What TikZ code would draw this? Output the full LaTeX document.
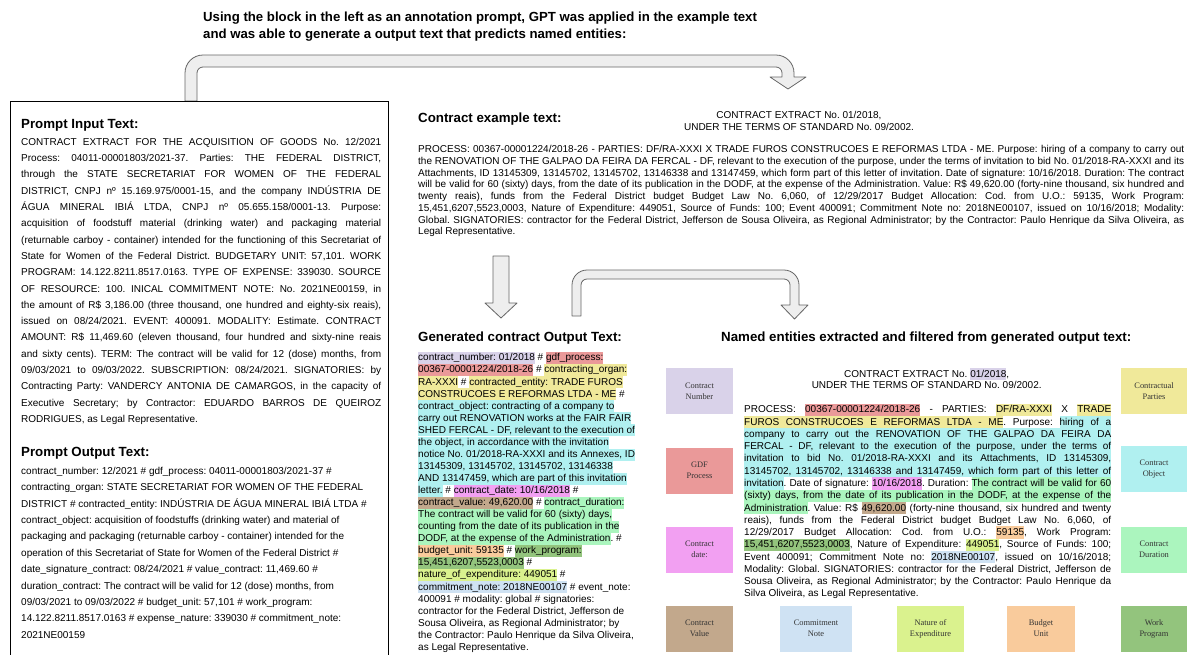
\documentclass[tikz,border=0pt]{standalone}
\usepackage{fontspec}
\setmainfont{Liberation Sans}
\newfontfamily\boxserif{Liberation Serif}
\frenchspacing
\definecolor{hlav}{HTML}{D9D2E9}
\definecolor{hred}{HTML}{EA9999}
\definecolor{hyel}{HTML}{F0E99A}
\definecolor{hcy}{HTML}{B0F0F0}
\definecolor{hpink}{HTML}{F2A0F2}
\definecolor{hbrown}{HTML}{C2A88C}
\definecolor{hgreen}{HTML}{ABF5BE}
\definecolor{horange}{HTML}{F9CB9C}
\definecolor{hdkgreen}{HTML}{93C47D}
\definecolor{hygreen}{HTML}{DAF28E}
\definecolor{hblue}{HTML}{CFE2F3}
\definecolor{arrowfill}{HTML}{EEEEEE}
\definecolor{arrowline}{HTML}{666666}
\definecolor{labeltext}{HTML}{333333}
\newdimen\jw \newdimen\hlH \newdimen\hlD
\makeatletter
\def\hlcol{white}
\newcommand\hl[2]{\def\hlcol{#1}\hl@loop#2 \hl@end}
\def\hl@loop#1 #2\hl@end{\hl@word{#1}\if\relax\detokenize{#2}\relax\else\hl@space\hl@loop#2\hl@end\fi}
\def\hl@word#1{{\fboxsep=0pt\colorbox{\hlcol}{\vrule width0pt height\hlH depth\hlD\relax #1}}}
\def\hl@space{{\color{\hlcol}\leaders\vrule height\hlH depth\hlD\hskip\fontdimen2\font plus\fontdimen3\font minus\fontdimen4\font}}
\makeatother
\newcommand\jline[1]{\hbox to\jw{#1}}
\newcommand\rline[1]{\hbox{#1}}
\newcommand\jfull[2]{\hbox{\fboxsep=0pt\colorbox{#1}{\vrule width0pt height\hlH depth\hlD\relax\hbox to\jw{#2}}}}
\newcommand\tblock[2]{\vtop{\baselineskip=#1\relax\lineskiplimit=-\maxdimen\lineskip=0pt\relax #2}}
\tikzset{
  txt/.style={anchor=base west, inner sep=0pt, font=\fontsize{10}{12}\selectfont},
  ctxt/.style={anchor=base, inner sep=0pt, font=\fontsize{10}{12}\selectfont},
  head/.style={anchor=base west, inner sep=0pt, font=\bfseries\fontsize{13.3}{16}\selectfont},
  lbl/.style={inner sep=0pt, font=\boxserif\fontsize{8.4}{11}\selectfont, text=labeltext, align=center, minimum height=46pt},
  blockarrow/.style={fill=arrowfill, draw=arrowline, line width=0.8pt, line join=round},
  frame/.style={draw=black, line width=0.9pt}
}
\begin{document}
\begin{tikzpicture}[x=1pt,y=-1pt]
\useasboundingbox (0,0) rectangle (1188,654);
\fill[white] (0,0) rectangle (1188,654);

% ---------- title ----------
\node[anchor=base west, inner sep=0pt, font=\bfseries\fontsize{13.2}{17}\selectfont] (title) at (203,21.5)
 {\tblock{17pt}{\rline{Using the block in the left as an annotation prompt, GPT was applied in the example text}
 \rline{and was able to generate a output text that predicts named entities:}}};

% ---------- block arrows ----------
\draw[blockarrow] (185,101) -- (185,73) .. controls (185,63.06) and (193.06,55) .. (203,55)
  -- (776,55) .. controls (785.94,55) and (794,63.06) .. (794,73) -- (794,77) -- (806,77)
  -- (788,89) -- (770,77) -- (782,77) -- (782,73) .. controls (782,69.69) and (779.31,67) .. (776,67)
  -- (203,67) .. controls (199.69,67) and (197,69.69) .. (197,73) -- (197,101) -- cycle;
\draw[blockarrow] (493,256) -- (509,256) -- (509,303) -- (517,303) -- (501,318) -- (485,303) -- (493,303) -- cycle;
\draw[blockarrow] (572,316) -- (572,285) .. controls (572,276.72) and (578.72,270) .. (587,270)
  -- (784,270) .. controls (792.28,270) and (799,276.72) .. (799,285) -- (799,305) -- (808,305)
  -- (794.5,319) -- (781,305) -- (790,305) -- (790,285) .. controls (790,281.69) and (787.31,279) .. (784,279)
  -- (587,279) .. controls (583.69,279) and (581,281.69) .. (581,285) -- (581,316) -- cycle;

% ---------- left prompt box ----------
\draw[frame] (10,660) -- (10,101) -- (388,101) -- (388,660);
\node[head] (inhead) at (21,128) {Prompt Input Text:};
\node[txt] (intext) at (21,145.3) {\jw=360pt \tblock{16.3pt}{%
\jline{CONTRACT EXTRACT FOR THE ACQUISITION OF GOODS No. 12/2021}
\jline{Process: 04011-00001803/2021-37. Parties: THE FEDERAL DISTRICT,}
\jline{through the STATE SECRETARIAT FOR WOMEN OF THE FEDERAL}
\jline{DISTRICT, CNPJ nº 15.169.975/0001-15, and the company INDÚSTRIA DE}
\jline{ÁGUA MINERAL IBIÁ LTDA, CNPJ nº 05.655.158/0001-13. Purpose:}
\jline{acquisition of foodstuff material (drinking water) and packaging material}
\jline{(returnable carboy - container) intended for the functioning of this Secretariat of}
\jline{State for Women of the Federal District. BUDGETARY UNIT: 57,101. WORK}
\jline{PROGRAM: 14.122.8211.8517.0163. TYPE OF EXPENSE: 339030. SOURCE}
\jline{OF RESOURCE: 100. INICAL COMMITMENT NOTE: No. 2021NE00159, in}
\jline{the amount of R\$ 3,186.00 (three thousand, one hundred and eighty-six reais),}
\jline{issued on 08/24/2021. EVENT: 400091. MODALITY: Estimate. CONTRACT}
\jline{AMOUNT: R\$ 11,469.60 (eleven thousand, four hundred and sixty-nine reais}
\jline{and sixty cents). TERM: The contract will be valid for 12 (dose) months, from}
\jline{09/03/2021 to 09/03/2022. SUBSCRIPTION: 08/24/2021. SIGNATORIES: by}
\jline{Contracting Party: VANDERCY ANTONIA DE CAMARGOS, in the capacity of}
\jline{Executive Secretary; by Contractor: EDUARDO BARROS DE QUEIROZ}
\rline{RODRIGUES, as Legal Representative.}}};
\node[head] (outhead) at (21,456.5) {Prompt Output Text:};
\node[txt] (outtext) at (21,474.3) {\tblock{16.4pt}{%
\rline{contract\_number: 12/2021 \# gdf\_process: 04011-00001803/2021-37 \#}
\rline{contracting\_organ: STATE SECRETARIAT FOR WOMEN OF THE FEDERAL}
\rline{DISTRICT \# contracted\_entity: INDÚSTRIA DE ÁGUA MINERAL IBIÁ LTDA \#}
\rline{contract\_object: acquisition of foodstuffs (drinking water) and material of}
\rline{packaging and packaging (returnable carboy - container) intended for the}
\rline{operation of this Secretariat of State for Women of the Federal District \#}
\rline{date\_signature\_contract: 08/24/2021 \# value\_contract: 11,469.60 \#}
\rline{duration\_contract: The contract will be valid for 12 (dose) months, from}
\rline{09/03/2021 to 09/03/2022 \# budget\_unit: 57,101 \# work\_program:}
\rline{14.122.8211.8517.0163 \# expense\_nature: 339030 \# commitment\_note:}
\rline{2021NE00159}}};

% ---------- contract example ----------
\node[head] (exhead) at (418,122) {Contract example text:};
\node[ctxt] (exttl1) at (799,118.5) {CONTRACT EXTRACT No. 01/2018,};
\node[ctxt] (exttl2) at (799,130.2) {UNDER THE TERMS OF STANDARD No. 09/2002.};
\node[txt] (extext) at (418,152.5) {\jw=766pt \tblock{11.77pt}{%
\jline{PROCESS: 00367-00001224/2018-26 - PARTIES: DF/RA-XXXI X TRADE FUROS CONSTRUCOES E REFORMAS LTDA - ME. Purpose: hiring of a company to carry out}
\jline{the RENOVATION OF THE GALPAO DA FEIRA DA FERCAL - DF, relevant to the execution of the purpose, under the terms of invitation to bid No. 01/2018-RA-XXXI and its}
\jline{Attachments, ID 13145309, 13145702, 13145702, 13146338 and 13147459, which form part of this letter of invitation. Date of signature: 10/16/2018. Duration: The contract}
\jline{will be valid for 60 (sixty) days, from the date of its publication in the DODF, at the expense of the Administration. Value: R\$ 49,620.00 (forty-nine thousand, six hundred and}
\jline{twenty reais), funds from the Federal District budget Budget Law No. 6,060, of 12/29/2017 Budget Allocation: Cod. from U.O.: 59135, Work Program:}
\jline{15,451,6207,5523,0003, Nature of Expenditure: 449051, Source of Funds: 100; Event 400091; Commitment Note no: 2018NE00107, issued on 10/16/2018; Modality:}
\jline{Global. SIGNATORIES: contractor for the Federal District, Jefferson de Sousa Oliveira, as Regional Administrator; by the Contractor: Paulo Henrique da Silva Oliveira, as}
\rline{Legal Representative.}}};

% ---------- generated output ----------
\node[head] (genhead) at (418,341.5) {Generated contract Output Text:};
\node[txt] (gentext) at (418,360.9) {\hlH=8.8pt \hlD=3.2pt \tblock{12.06pt}{%
\rline{\hl{hlav}{contract\_number: 01/2018} \# \hl{hred}{gdf\_process:}}
\rline{\hl{hred}{00367-00001224/2018-26} \# \hl{hyel}{contracting\_organ:}}
\rline{\hl{hyel}{RA-XXXI} \# \hl{hyel}{contracted\_entity: TRADE FUROS}}
\rline{\hl{hyel}{CONSTRUCOES E REFORMAS LTDA - ME} \#}
\rline{\hl{hcy}{contract\_object: contracting of a company to}}
\rline{\hl{hcy}{carry out RENOVATION works at the FAIR FAIR}}
\rline{\hl{hcy}{SHED FERCAL - DF, relevant to the execution of}}
\rline{\hl{hcy}{the object, in accordance with the invitation}}
\rline{\hl{hcy}{notice No. 01/2018-RA-XXXI and its Annexes, ID}}
\rline{\hl{hcy}{13145309, 13145702, 13145702, 13146338}}
\rline{\hl{hcy}{AND 13147459, which are part of this invitation}}
\rline{\hl{hcy}{letter.} \# \hl{hpink}{contract\_date: 10/16/2018} \#}
\rline{\hl{hbrown}{contract\_value: 49,620.00} \# \hl{hgreen}{contract\_duration:}}
\rline{\hl{hgreen}{The contract will be valid for 60 (sixty) days,}}
\rline{\hl{hgreen}{counting from the date of its publication in the}}
\rline{\hl{hgreen}{DODF, at the expense of the Administration}. \#}
\rline{\hl{horange}{budget\_unit: 59135} \# \hl{hdkgreen}{work\_program:}}
\rline{\hl{hdkgreen}{15,451,6207,5523,0003} \#}
\rline{\hl{hygreen}{nature\_of\_expenditure: 449051} \#}
\rline{\hl{hblue}{commitment\_note: 2018NE00107} \# event\_note:}
\rline{400091 \# modality: global \# signatories:}
\rline{contractor for the Federal District, Jefferson de}
\rline{Sousa Oliveira, as Regional Administrator; by}
\rline{the Contractor: Paulo Henrique da Silva Oliveira,}
\rline{as Legal Representative.}}};

% ---------- named entities ----------
\node[head] (nehead) at (721,341.5) {Named entities extracted and filtered from generated output text:};
\node[ctxt] (nettl1) at (926.7,377) {\hlH=9pt \hlD=3pt CONTRACT EXTRACT No. \hl{hlav}{01/2018},};
\node[ctxt] (nettl2) at (926.7,388.6) {UNDER THE TERMS OF STANDARD No. 09/2002.};
\node[txt] (netext) at (744,412.9) {\jw=367pt \hlH=9.2pt \hlD=3.07pt \tblock{12.27pt}{%
\jline{PROCESS: \hl{hred}{00367-00001224/2018-26} - PARTIES: \hl{hyel}{DF/RA-XXXI} X \hl{hyel}{TRADE}}
\jline{\hl{hyel}{FUROS CONSTRUCOES E REFORMAS LTDA - ME}. Purpose: \hl{hcy}{hiring of a}}
\jfull{hcy}{company to carry out the RENOVATION OF THE GALPAO DA FEIRA DA}
\jfull{hcy}{FERCAL - DF, relevant to the execution of the purpose, under the terms of}
\jfull{hcy}{invitation to bid No. 01/2018-RA-XXXI and its Attachments, ID 13145309,}
\jfull{hcy}{13145702, 13145702, 13146338 and 13147459, which form part of this letter of}
\jline{\hl{hcy}{invitation}. Date of signature: \hl{hpink}{10/16/2018}. Duration: \hl{hgreen}{The contract will be valid for 60}}
\jfull{hgreen}{(sixty) days, from the date of its publication in the DODF, at the expense of the}
\jline{\hl{hgreen}{Administration}. Value: R\$ \hl{hbrown}{49,620.00} (forty-nine thousand, six hundred and twenty}
\jline{reais), funds from the Federal District budget Budget Law No. 6,060, of}
\jline{12/29/2017 Budget Allocation: Cod. from U.O.: \hl{horange}{59135}, Work Program:}
\jline{\hl{hdkgreen}{15,451,6207,5523,0003}, Nature of Expenditure: \hl{hygreen}{449051}, Source of Funds: 100;}
\jline{Event 400091; Commitment Note no: \hl{hblue}{2018NE00107}, issued on 10/16/2018;}
\jline{Modality: Global. SIGNATORIES: contractor for the Federal District, Jefferson de}
\jline{Sousa Oliveira, as Regional Administrator; by the Contractor: Paulo Henrique da}
\rline{Silva Oliveira, as Legal Representative.}}};

% ---------- entity labels ----------
\node[lbl, fill=hlav, minimum width=67pt] (lcn) at (699.5,391) {Contract\\Number};
\node[lbl, fill=hred, minimum width=67pt] (lgdf) at (699.5,470.5) {GDF\\Process};
\node[lbl, fill=hpink, minimum width=67pt] (lcd) at (699.5,549.5) {Contract\\date:};
\node[lbl, fill=hbrown, minimum width=67pt] (lcv) at (699.5,628.5) {Contract\\Value};
\node[lbl, fill=hblue, minimum width=72pt] (lcmn) at (816,628.5) {Commitment\\Note};
\node[lbl, fill=hygreen, minimum width=67pt] (lne) at (930.5,628.5) {Nature of\\Expenditure};
\node[lbl, fill=horange, minimum width=68pt] (lbu) at (1041,628.5) {Budget\\Unit};
\node[lbl, fill=hdkgreen, minimum width=66pt] (lwp) at (1154,628.5) {Work\\Program};
\node[lbl, fill=hgreen, minimum width=66pt] (lcdur) at (1154,549.5) {Contract\\Duration};
\node[lbl, fill=hcy, minimum width=66pt] (lcobj) at (1154,469) {Contract\\Object};
\node[lbl, fill=hyel, minimum width=66pt] (lcp) at (1154,391) {Contractual\\Parties};
\end{tikzpicture}
\end{document}
